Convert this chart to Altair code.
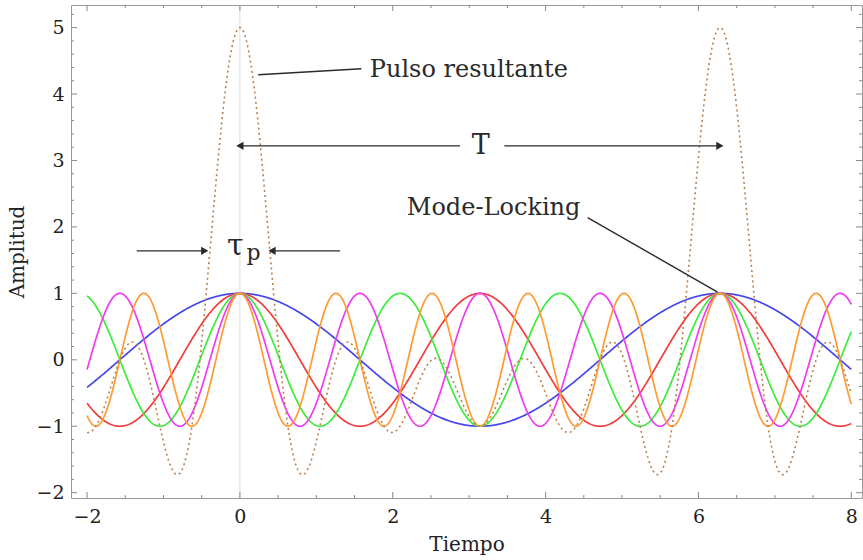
import numpy as np
import pandas as pd
import altair as alt

# Longitudinal modes: harmonic order and line colour of each cosine
modes = [1, 2, 3, 4, 5]
mode_colors = ["#4646F0", "#F03C3C", "#3CEB3C", "#F03CF0", "#FF9A32"]
pulse_color = "#B8804E"

# Time span drawn and the visible ranges of the frame
t_start, t_end = -2, 8
x_domain = [-2.21, 8.14]
y_domain = [-2.08, 5.34]

# Frame ticks
x_major = [-2, 0, 2, 4, 6, 8]
y_major = [-2, -1, 0, 1, 2, 3, 4, 5]
x_minor = [v / 2 for v in range(-4, 17) if v % 4 != 0]
y_minor = [v / 5 for v in range(-10, 27) if v % 5 != 0]

# Annotation segments (x1, y1, x2, y2) in data units
pulse_leader = [(0.24, 4.29, 1.59, 4.38)]
period_arrows = [(2.88, 3.22, 0.0, 3.22), (3.46, 3.22, 6.28, 3.22)]
width_arrows = [(-1.35, 1.64, -0.46, 1.64), (1.31, 1.64, 0.42, 1.64)]
locking_leader = [(4.55, 2.14, 6.25, 1.02)]

W, H = 791, 493

t = np.linspace(t_start, t_end, 1201)
rows = []
for n in modes:
    for ti in t:
        rows.append({"t": ti, "amp": np.cos(n * ti), "mode": n})
waves = pd.DataFrame(rows)
pulse = pd.DataFrame({"t": t, "amp": sum(np.cos(n * t) for n in modes)})

xs = alt.Scale(domain=x_domain, nice=False, zero=False)
ys = alt.Scale(domain=y_domain, nice=False, zero=False)

X = alt.X("t:Q", scale=xs, title="Tiempo",
          axis=alt.Axis(values=x_major, format="d", labelPadding=9, titlePadding=8))
Y = alt.Y("amp:Q", scale=ys, title="Amplitud",
          axis=alt.Axis(values=y_major, format="d", labelPadding=7, titlePadding=8))

# faint vertical axis at t = 0
zero_axis = alt.Chart(pd.DataFrame({"t": [0]})).mark_rule(
    color="#e2e2e2", strokeWidth=1.2
).encode(x=alt.X("t:Q", scale=xs))

wave_lines = alt.Chart(waves).mark_line(strokeWidth=1.7, clip=True).encode(
    x=X, y=Y,
    color=alt.Color("mode:N", scale=alt.Scale(domain=modes, range=mode_colors), legend=None),
    order=alt.Order("t:Q"),
)

pulse_line = alt.Chart(pulse).mark_line(
    strokeWidth=1.6, strokeDash=[2, 3.2], color=pulse_color, clip=True
).encode(x=alt.X("t:Q", scale=xs), y=alt.Y("amp:Q", scale=ys))

# inward frame ticks
def tick_layer(values, horizontal, length):
    df = pd.DataFrame({"v": values})
    layers = []
    if horizontal:
        for y0, y1 in [(H, H - length), (0, length)]:
            layers.append(alt.Chart(df).mark_rule(color="#8a8a8a", strokeWidth=1).encode(
                x=alt.X("v:Q", scale=xs), y=alt.value(y0), y2=alt.value(y1)))
    else:
        for x0, x1 in [(0, length), (W, W - length)]:
            layers.append(alt.Chart(df).mark_rule(color="#8a8a8a", strokeWidth=1).encode(
                y=alt.Y("v:Q", scale=ys), x=alt.value(x0), x2=alt.value(x1)))
    return layers

ticks = (tick_layer(x_major, True, 6) + tick_layer(x_minor, True, 3)
         + tick_layer(y_major, False, 6) + tick_layer(y_minor, False, 3))

segs = pd.DataFrame(pulse_leader + period_arrows + width_arrows + locking_leader,
                    columns=["x1", "y1", "x2", "y2"])
seg_layer = alt.Chart(segs).mark_rule(color="#2a2a2a", strokeWidth=1.4).encode(
    x=alt.X("x1:Q", scale=xs), y=alt.Y("y1:Q", scale=ys), x2="x2:Q", y2="y2:Q")

heads = pd.DataFrame(
    [(s[2], s[3], "triangle-right" if s[2] > s[0] else "triangle-left")
     for s in period_arrows + width_arrows],
    columns=["x", "y", "shape"])
head_layer = alt.Chart(heads).mark_point(filled=True, color="#2a2a2a", opacity=1, size=70).encode(
    x=alt.X("x:Q", scale=xs), y=alt.Y("y:Q", scale=ys),
    shape=alt.Shape("shape:N", scale=None))

labels = pd.DataFrame([
    {"x": 1.70, "y": 4.36, "text": "Pulso resultante", "size": 24, "align": "left"},
    {"x": 3.15, "y": 3.22, "text": "T", "size": 27, "align": "center"},
    {"x": 3.32, "y": 2.29, "text": "Mode-Locking", "size": 24, "align": "center"},
])
text_layers = []
for _, r in labels.iterrows():
    text_layers.append(
        alt.Chart(pd.DataFrame([r])).mark_text(
            font="DejaVu Serif", fontSize=r["size"], align=r["align"],
            baseline="middle", color="#2a2a2a"
        ).encode(x=alt.X("x:Q", scale=xs), y=alt.Y("y:Q", scale=ys), text="text:N"))

tau = alt.Chart(pd.DataFrame({"x": [-0.06], "y": [1.58], "s": ["τ"]})).mark_text(
    font="DejaVu Serif", fontSize=30, align="center", baseline="alphabetic", color="#2a2a2a"
).encode(x=alt.X("x:Q", scale=xs), y=alt.Y("y:Q", scale=ys), text="s:N")
tau_sub = alt.Chart(pd.DataFrame({"x": [0.18], "y": [1.50], "s": ["p"]})).mark_text(
    font="DejaVu Serif", fontSize=22, align="center", baseline="alphabetic", color="#2a2a2a"
).encode(x=alt.X("x:Q", scale=xs), y=alt.Y("y:Q", scale=ys), text="s:N")

chart = alt.layer(
    zero_axis, wave_lines, pulse_line, *ticks, seg_layer, head_layer, *text_layers, tau, tau_sub
).properties(
    width=W, height=H,
    autosize=alt.AutoSizeParams(type="none"),
    padding={"left": 71, "top": 5, "right": 1, "bottom": 62},
    background="white",
).configure_view(
    stroke="#9a9a9a", strokeWidth=1
).configure_axis(
    grid=False, ticks=False, domain=False,
    labelFont="DejaVu Serif", labelFontSize=19, labelColor="#222",
    titleFont="DejaVu Serif", titleFontSize=20, titleFontWeight="normal", titleColor="#222",
)

chart.save("out.html", embed_options={"renderer": "svg", "actions": False})
